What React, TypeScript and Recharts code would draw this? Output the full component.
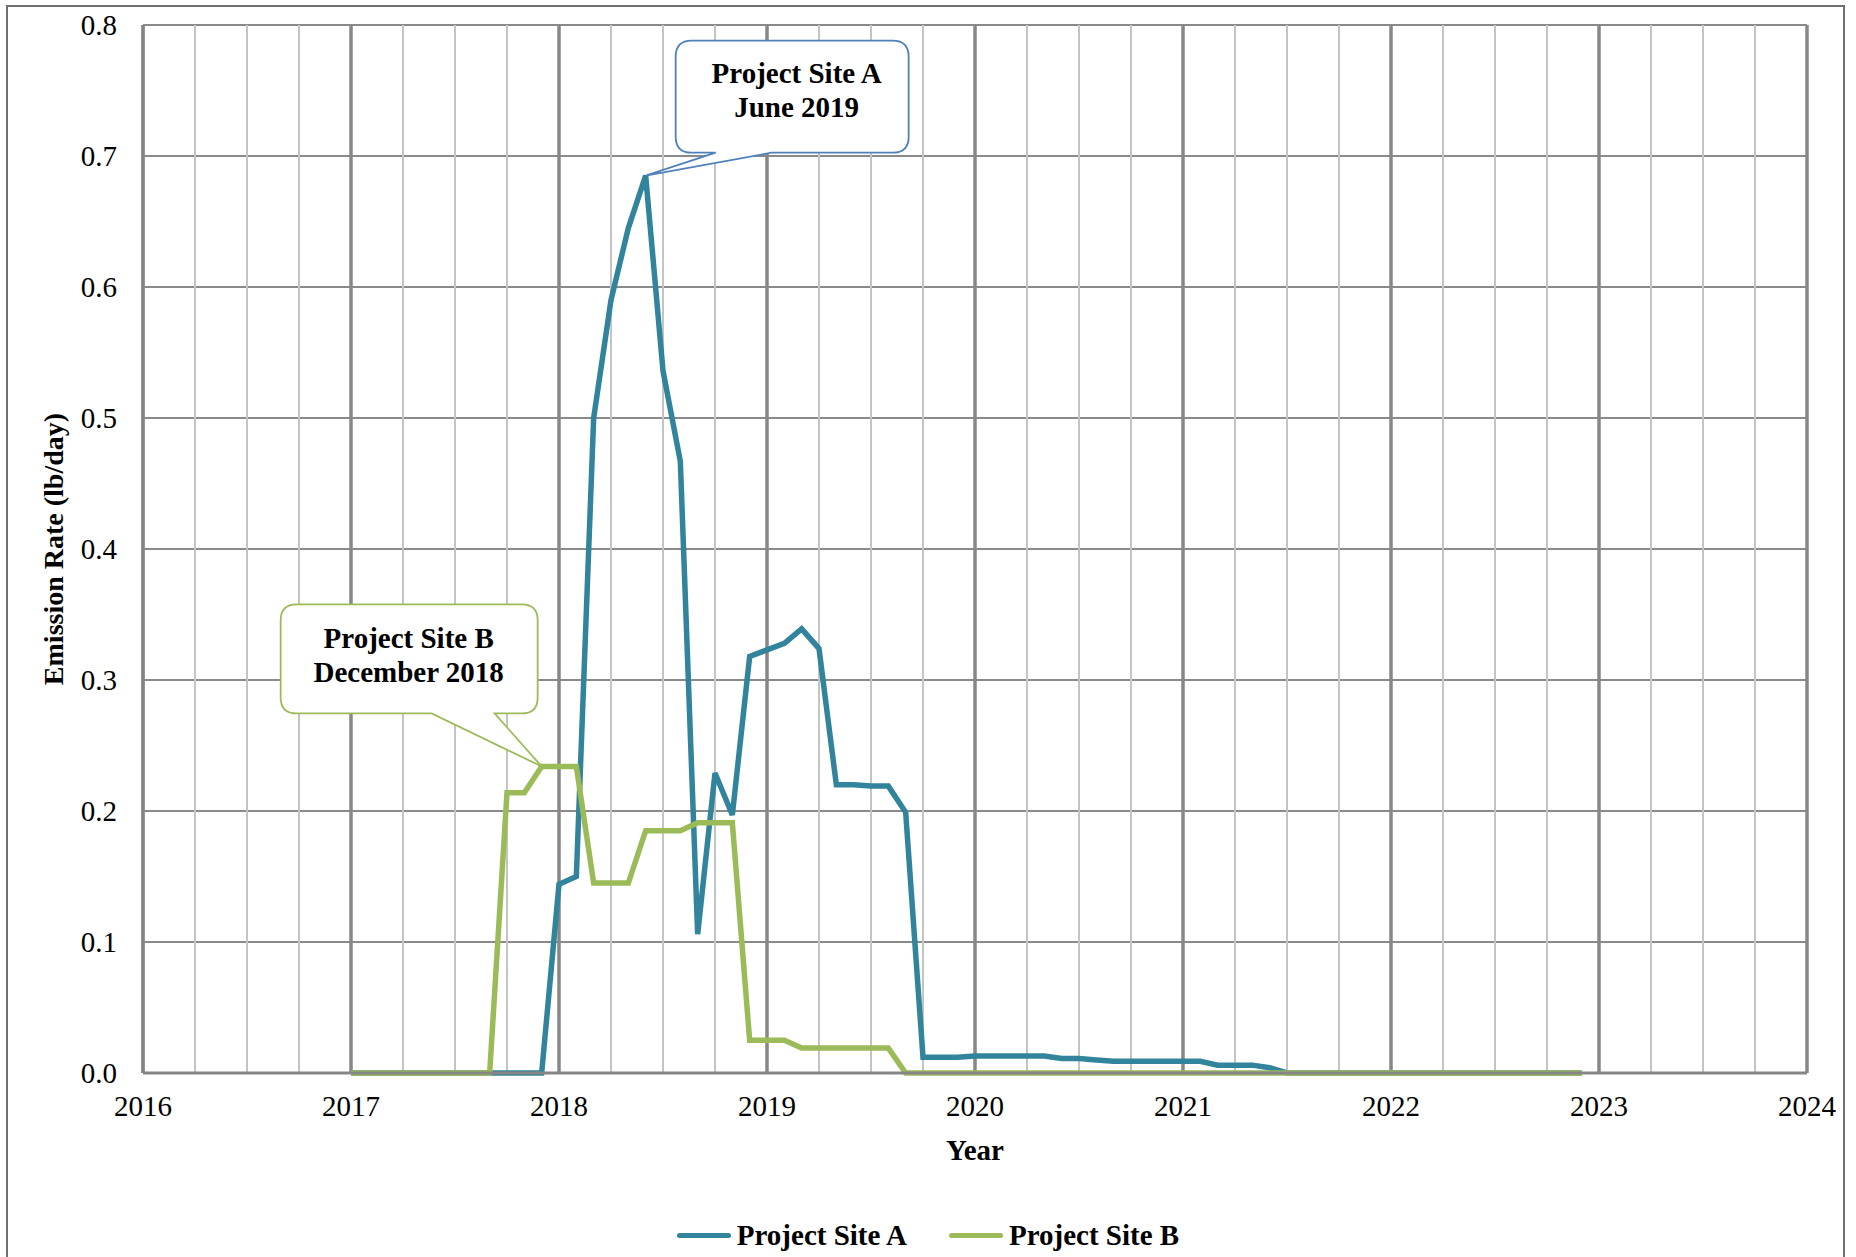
import React from 'react';
import {
    LineChart,
    Line,
    XAxis,
    YAxis,
    CartesianGrid,
    ReferenceLine,
    ReferenceDot,
    Legend
} from 'recharts';

// monthly values, Jan 2017 .. Dec 2022
const startYear = 2017;

const siteA = [
    0, 0, 0, 0, 0, 0, 0, 0, 0, 0, 0, 0,
    0.144, 0.150, 0.500, 0.590, 0.645, 0.685, 0.536, 0.467, 0.106, 0.229, 0.197, 0.318,
    0.323, 0.328, 0.339, 0.324, 0.220, 0.220, 0.219, 0.219, 0.199, 0.012, 0.012, 0.012,
    0.013, 0.013, 0.013, 0.013, 0.013, 0.011, 0.011, 0.010, 0.009, 0.009, 0.009, 0.009,
    0.009, 0.009, 0.006, 0.006, 0.006, 0.004, 0, 0, 0, 0, 0, 0,
    0, 0, 0, 0, 0, 0, 0, 0, 0, 0, 0, 0,
];

const siteB = [
    0, 0, 0, 0, 0, 0, 0, 0, 0, 0.214, 0.214, 0.234,
    0.234, 0.234, 0.145, 0.145, 0.145, 0.185, 0.185, 0.185, 0.191, 0.191, 0.191, 0.025,
    0.025, 0.025, 0.019, 0.019, 0.019, 0.019, 0.019, 0.019, 0, 0, 0, 0,
    0, 0, 0, 0, 0, 0, 0, 0, 0, 0, 0, 0,
    0, 0, 0, 0, 0, 0, 0, 0, 0, 0, 0, 0,
    0, 0, 0, 0, 0, 0, 0, 0, 0, 0, 0, 0,
];

const yearTicks = [2016, 2017, 2018, 2019, 2020, 2021, 2022, 2023, 2024];
const valueTicks = [0, 0.1, 0.2, 0.3, 0.4, 0.5, 0.6, 0.7, 0.8];

const calloutA = ['Project Site A', 'June 2019'];
const calloutB = ['Project Site B', 'December 2018'];

const COLOR_A = '#31849B';
const COLOR_B = '#9BBB59';
const FONT = '"Liberation Serif", "Times New Roman", serif';

const chartData = siteA.map((a, i) => ({ x: startYear + i / 12, a, b: siteB[i] }));

// quarter gridlines between the year lines
const quarterLines = yearTicks.slice(0, -1).flatMap(y => [y + 0.25, y + 0.5, y + 0.75]);

const peakIdx = (arr: number[]) => arr.indexOf(Math.max(...arr));
const peakA = chartData[peakIdx(siteA)];
const peakB = chartData[peakIdx(siteB)];

// rounded box with a pointer going to (0,0)
const calloutPath = (x0: number, y0: number, x1: number, y1: number, b1: number, b2: number, r: number) =>
    `M${x0 + r},${y0} H${x1 - r} Q${x1},${y0} ${x1},${y0 + r} V${y1 - r} Q${x1},${y1} ${x1 - r},${y1} ` +
    `H${b2} L0,0 L${b1},${y1} H${x0 + r} Q${x0},${y1} ${x0},${y1 - r} V${y0 + r} Q${x0},${y0} ${x0 + r},${y0} Z`;

const makeCallout = (lines: string[], color: string, box: number[], base: number[], textX: number, textY: number) =>
    (props: any) => (
        <g transform={`translate(${props.cx},${props.cy})`}>
            <path d={calloutPath(box[0], box[1], box[2], box[3], base[0], base[1], 16)}
                  fill="#fff" stroke={color} strokeWidth={1.8} />
            {lines.map((t, i) => (
                <text key={i} x={textX} y={textY + i * 34} textAnchor="middle"
                      fontSize={29} fontWeight="bold" fill="#000" fontFamily={FONT}>{t}</text>
            ))}
        </g>
    );

const CustomLegend = () => (
    <div style={{ display: 'flex', justifyContent: 'center', alignItems: 'center', fontFamily: FONT, fontWeight: 'bold', fontSize: 29 }}>
        {[['Project Site A', COLOR_A], ['Project Site B', COLOR_B]].map(([name, c], i) => (
            <div key={name} style={{ display: 'flex', alignItems: 'center', marginLeft: i ? 42 : 0 }}>
                <span style={{ display: 'inline-block', width: 54, height: 5, borderRadius: 3, background: c, marginRight: 6 }} />
                <span>{name}</span>
            </div>
        ))}
    </div>
);

const App: React.FC = () => (
    <div style={{ position: 'absolute', left: 0, top: 0, width: 1856, height: 1257, overflow: 'hidden', background: '#fff', fontFamily: FONT }}>
        <div style={{ position: 'absolute', left: 6, top: 5, width: 1835, height: 1300, border: '2px solid #707070' }} />
        <div style={{ position: 'absolute', left: 0, top: 0 }}>
            <LineChart width={1856} height={1257} data={chartData}
                       margin={{ top: 25, right: 49, left: 0, bottom: 124 }}>
                <CartesianGrid vertical={false} stroke="#8a8a8a" strokeWidth={2} />
                {quarterLines.map(q => (
                    <ReferenceLine key={q} x={q} stroke="#c4c4c4" strokeWidth={2} />
                ))}
                {yearTicks.map(y => (
                    <ReferenceLine key={y} x={y} stroke="#878787" strokeWidth={3.5} />
                ))}
                <XAxis
                    type="number"
                    dataKey="x"
                    domain={[2016, 2024]}
                    ticks={yearTicks}
                    allowDecimals={false}
                    height={60}
                    tickLine={false}
                    tickSize={6}
                    tickMargin={16}
                    axisLine={{ stroke: '#858585', strokeWidth: 3 }}
                    tick={{ fontSize: 29, fill: '#000', fontFamily: FONT }}
                    label={{ value: 'Year', position: 'bottom', offset: 6, fontSize: 29, fontWeight: 'bold', fill: '#000', fontFamily: FONT }}
                />
                <YAxis
                    type="number"
                    domain={[0, 0.8]}
                    ticks={valueTicks}
                    width={143}
                    tickLine={false}
                    tickSize={6}
                    tickMargin={20}
                    tickFormatter={(v: number) => v.toFixed(1)}
                    axisLine={{ stroke: '#858585', strokeWidth: 3 }}
                    tick={{ fontSize: 29, fill: '#000', fontFamily: FONT }}
                    label={{ value: 'Emission Rate (lb/day)', angle: -90, position: 'insideLeft', offset: 53,
                             style: { textAnchor: 'middle' }, fontSize: 28, fontWeight: 'bold', fill: '#000', fontFamily: FONT }}
                />
                <Legend
                    content={<CustomLegend />}
                    layout="horizontal"
                    align="center"
                    verticalAlign="middle"
                    wrapperStyle={{ top: 1219, left: 0, width: 1856 }}
                />
                <Line type="linear" dataKey="a" name="Project Site A" stroke={COLOR_A} strokeWidth={5.5}
                      dot={false} activeDot={false} isAnimationActive={false} />
                <Line type="linear" dataKey="b" name="Project Site B" stroke={COLOR_B} strokeWidth={5.5}
                      dot={false} activeDot={false} isAnimationActive={false} />
                <ReferenceDot x={peakA.x} y={peakA.a} r={0} ifOverflow="visible"
                              shape={makeCallout(calloutA, '#4F81BD', [30, -135, 263, -23], [70, 126], 151, -93)} />
                <ReferenceDot x={peakB.x} y={peakB.b} r={0} ifOverflow="visible"
                              shape={makeCallout(calloutB, COLOR_B, [-261, -162, -4, -53], [-110, -47], -133, -118)} />
            </LineChart>
        </div>
    </div>
);

export default App;
